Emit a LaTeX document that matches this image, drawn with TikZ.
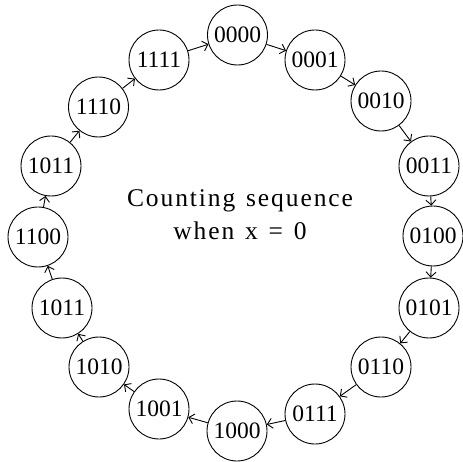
\documentclass[tikz,border=0pt]{standalone}
\usepackage{fontspec}
\setmainfont{Liberation Serif}
\newfontfamily\spacedfont[LetterSpace=7.5,WordSpace=1.3]{Liberation Serif}
\usetikzlibrary{arrows.meta}
\begin{document}
\begin{tikzpicture}[x=1pt,y=-1pt,
  state/.style={draw,circle,minimum size=60pt,inner sep=0pt,line width=0.9pt,
    font=\fontsize{23.5}{28}\selectfont},
  link/.style={-{Straight Barb[length=5pt,width=10pt]},line width=0.9pt},
  caption/.style={align=center,font=\spacedfont\fontsize{25.5}{33}\selectfont}]
\useasboundingbox (0,0) rectangle (463,462);
\node[state] (s0)  at (237.5,35) {0000};
\node[state] (s1)  at (315,60)   {0001};
\node[state] (s2)  at (381,101)  {0010};
\node[state] (s3)  at (429,166)  {0011};
\node[state] (s4)  at (433,236)  {0100};
\node[state] (s5)  at (429,308)  {0101};
\node[state] (s6)  at (381,367)  {0110};
\node[state] (s7)  at (315,414)  {0111};
\node[state] (s8)  at (237,431)  {1000};
\node[state] (s9)  at (159,409)  {1001};
\node[state] (s10) at (99,367)   {1010};
\node[state] (s11) at (62,308)   {1011};
\node[state] (s12) at (38,237)   {1100};
\node[state] (s13) at (51,166)   {1011};
\node[state] (s14) at (98.5,107) {1110};
\node[state] (s15) at (159,60)   {1111};
\node[caption] (title) at (240,215) {Counting sequence\\when x = 0};
\foreach \a/\b in {0/1,1/2,2/3,3/4,4/5,5/6,6/7,7/8,8/9,9/10,10/11,11/12,12/13,13/14,14/15,15/0}
  \draw[link] (s\a) -- (s\b);
\end{tikzpicture}
\end{document}
